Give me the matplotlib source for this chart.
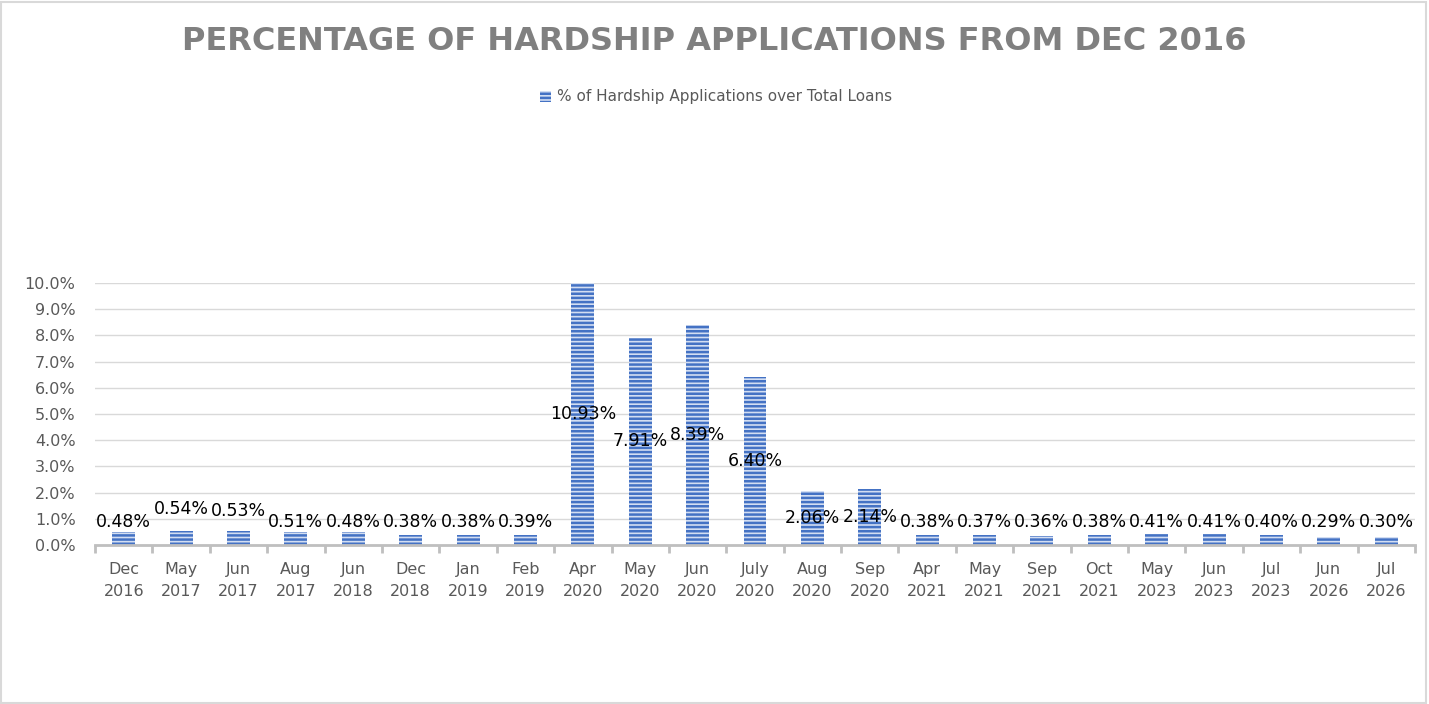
import matplotlib
matplotlib.use("Agg")
import matplotlib.pyplot as plt
from matplotlib.patches import Rectangle
from matplotlib.ticker import FixedLocator, PercentFormatter, MultipleLocator

months = ["Dec", "May", "Jun", "Aug", "Jun", "Dec", "Jan", "Feb", "Apr", "May", "Jun", "July",
          "Aug", "Sep", "Apr", "May", "Sep", "Oct", "May", "Jun", "Jul", "Jun", "Jul"]
years = ["2016", "2017", "2017", "2017", "2018", "2018", "2019", "2019", "2020", "2020", "2020", "2020",
         "2020", "2020", "2021", "2021", "2021", "2021", "2023", "2023", "2023", "2026", "2026"]
values = [0.48, 0.54, 0.53, 0.51, 0.48, 0.38, 0.38, 0.39, 10.93, 7.91, 8.39, 6.40,
          2.06, 2.14, 0.38, 0.37, 0.36, 0.38, 0.41, 0.41, 0.40, 0.29, 0.30]
series_name = "% of Hardship Applications over Total Loans"
title = "PERCENTAGE OF HARDSHIP APPLICATIONS FROM DEC 2016"

plt.rcParams["hatch.linewidth"] = 1.8
W, H = 1429, 704
fig = plt.figure(figsize=(W / 100, H / 100), dpi=100)
fig.patch.set_facecolor("white")
fig.add_artist(Rectangle((0.5 / W, 1.5 / H), 1 - 4 / W, 1 - 3 / H, transform=fig.transFigure,
                         fill=False, edgecolor="#d9d9d9", linewidth=1.5))

ax = fig.add_axes([95 / W, 1 - 545 / H, (1415 - 95) / W, (545 - 283) / H])
x = list(range(len(values)))
bars = ax.bar(x, values, width=0.4, color="#d3def2", edgecolor="#4472c4", hatch="----",
              linewidth=0, label=series_name, zorder=2)
ax.set_ylim(0, 10)
ax.set_xlim(-0.5, len(values) - 0.5)
ax.yaxis.set_major_locator(MultipleLocator(1))
ax.yaxis.set_major_formatter(PercentFormatter(decimals=1))
ax.grid(axis="y", color="#d9d9d9", linewidth=1, zorder=0)
for s in ["top", "right", "left"]:
    ax.spines[s].set_visible(False)
ax.spines["bottom"].set_color("#bfbfbf")
ax.spines["bottom"].set_linewidth(2)
ax.spines["bottom"].set_zorder(3)
ax.set_xticks(x)
ax.set_xticklabels([f"{m}\n{y}" for m, y in zip(months, years)], linespacing=1.65)
ax.xaxis.set_minor_locator(FixedLocator([i - 0.5 for i in range(len(values) + 1)]))
ax.tick_params(axis="x", which="major", length=0, pad=12, labelsize=11.5, labelcolor="#595959")
ax.tick_params(axis="x", which="minor", length=6, width=2, color="#bfbfbf")
ax.tick_params(axis="y", length=0, pad=14, labelsize=11.5, labelcolor="#595959")

# data label placement (Excel-like: centered in tall bars, lifted above short ones)
lift = {1: 1.37, 2: 1.30}
for i, v in enumerate(values):
    yy = lift.get(i, max(min(v, 10) / 2, 0.88))
    ax.text(i, yy, f"{v:.2f}%", ha="center", va="center", fontsize=12.5, color="black",
            zorder=4, clip_on=False)

t = fig.text(0.5 * (180 + 1248) / W, 1 - 41 / H, title, ha="center", va="center",
             fontsize=26, fontweight="bold", color="#808080")
fig.canvas.draw()
bb = t.get_window_extent()
t.set_fontsize(26 * (1248 - 180) / bb.width)

leg = fig.legend(handles=[bars], labels=[series_name], loc="center", bbox_to_anchor=(716 / W, 1 - 97 / H),
                 frameon=False, fontsize=11, handlelength=0.7, handleheight=0.7, handletextpad=0.4)
for txt in leg.get_texts():
    txt.set_color("#595959")

fig.savefig("out.png", dpi=100, facecolor="white")
